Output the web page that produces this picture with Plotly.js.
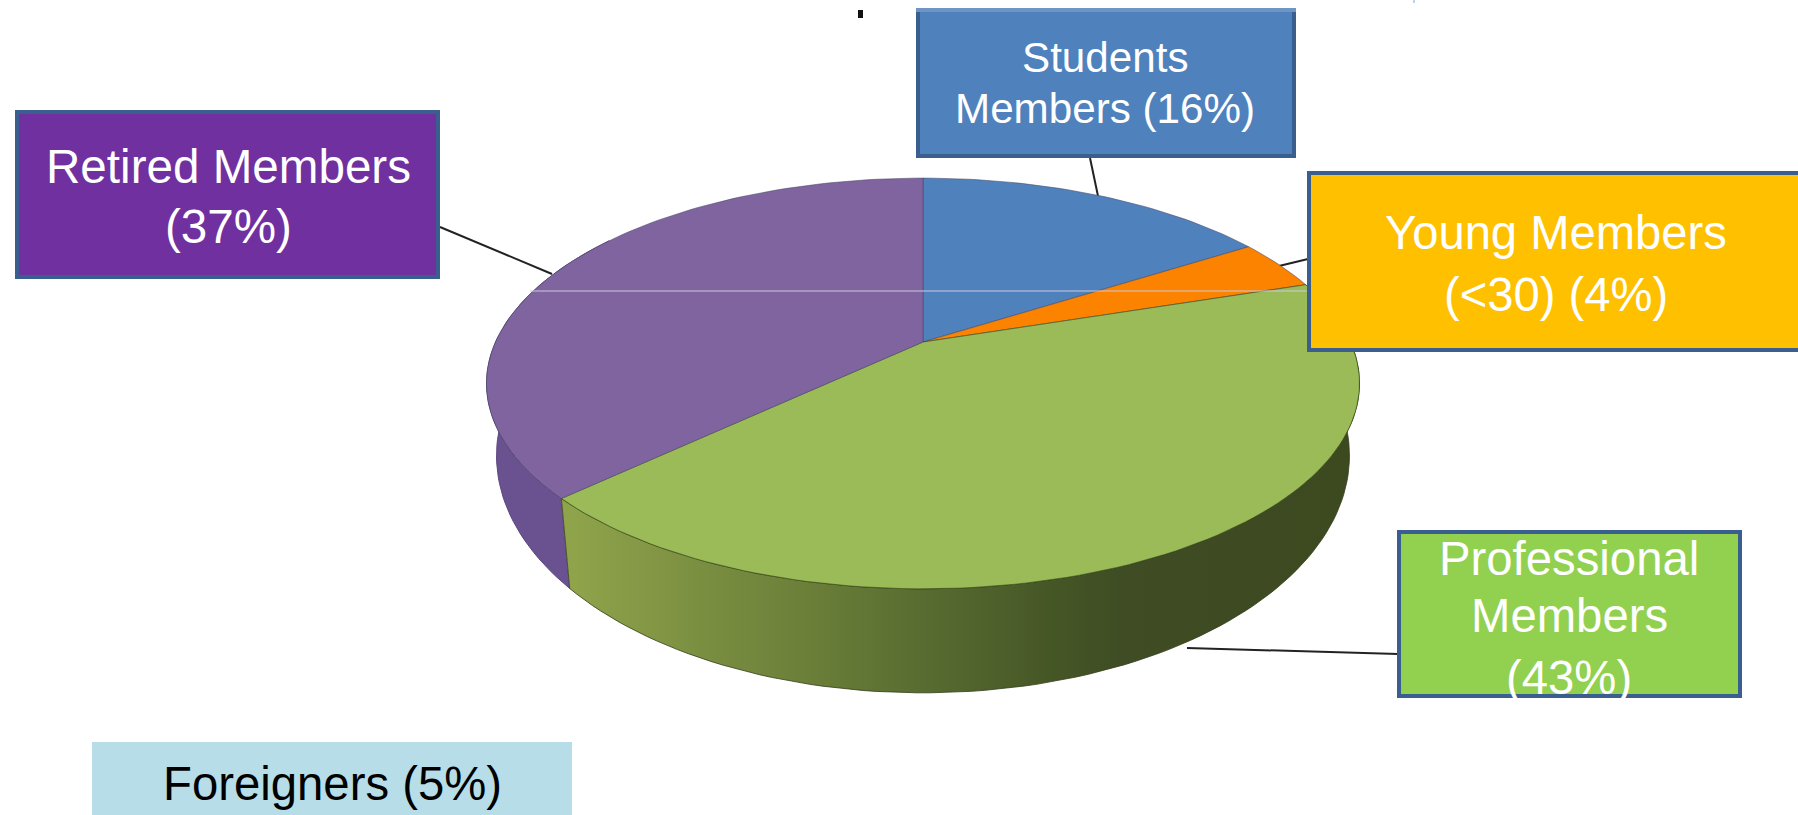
<!DOCTYPE html>
<html>
<head>
<meta charset="utf-8">
<script src="https://cdn.plot.ly/plotly-3.0.1.min.js"></script>
<style>html,body{margin:0;padding:0;background:#fff;overflow:hidden}#chart{width:1798px;height:815px}</style>
</head>
<body>
<div id="chart"></div>
<script>
// ---- data (clockwise from 12 o'clock) ----
const categories = ["Students Members", "Young Members (<30)", "Professional Members", "Retired Members"];
const shares = [16, 4, 43, 37];
const topColors = ["#4f81bd", "#fb8300", "#9bbb59", "#8064a0"];
const foreignerLabel = "Foreigners (5%)";

// ---- projection of the 3D pie ----
const P = {cx: 923, cy: 342, A: 427.5, B: 197, k: 0.202};
function topRim(thetaDeg) {
  const t = thetaDeg * Math.PI / 180, X = Math.sin(t), Y = Math.cos(t), w = 1 + P.k * Y;
  return [P.cx + P.A * X / w, P.cy - P.B * Y / w];
}
function bottomRim(thetaDeg) {
  const p = topRim(thetaDeg);
  return [P.cx + 0.977 * (p[0] - P.cx), 693 + (p[1] - 589) * 1.155];
}
function arc(fn, a, b) {
  const n = Math.max(2, Math.ceil(Math.abs(b - a) / 1.5)), o = [];
  for (let i = 0; i <= n; i++) o.push(fn(a + (b - a) * i / n));
  return o;
}
const total = shares.reduce((s, v) => s + v, 0);
let acc = 0;
const bounds = shares.map(v => { const a = acc; acc += v; return [a / total * 360, acc / total * 360]; });

function poly(pts, opts) {
  return Object.assign({
    x: pts.map(p => p[0]), y: pts.map(p => p[1]),
    mode: "lines", fill: "toself", hoverinfo: "skip", showlegend: false
  }, opts);
}
const traces = [];
// side walls
const gB = bounds[2], rB = bounds[3];
traces.push(poly(arc(topRim, rB[0], 305).concat(arc(bottomRim, 305, rB[0])), {
  fillcolor: "#6a5190", line: {color: "#5b4680", width: 1}
}));
traces.push(poly(arc(topRim, gB[0], gB[1]).concat(arc(bottomRim, gB[1], gB[0])), {
  fillcolor: "#3e4a22",
  fillgradient: {type: "horizontal", start: 575, stop: 1340,
    colorscale: [[0, "#8fa34b"], [0.16, "#7b8f41"], [0.32, "#697d38"], [0.47, "#566a30"], [0.62, "#465726"], [0.72, "#3f4c24"], [1, "#3d4a20"]]},
  line: {color: "rgba(50,60,25,0.8)", width: 1}
}));
// top face
bounds.forEach((b, i) => {
  const pts = [[P.cx, P.cy]].concat(arc(topRim, b[0], b[1]), [[P.cx, P.cy]]);
  traces.push(poly(pts, {
    name: categories[i], fillcolor: topColors[i],
    line: {color: i === 2 ? "rgba(45,65,15,0.6)" : "rgba(70,70,100,0.55)", width: 1}
  }));
});

// ---- callouts ----
const border = "#3a5f8f";
const boxes = [
  {x0: 17, x1: 438, y0: 112, y1: 277, fill: "#7030a0", line: border},
  {x0: 918, x1: 1294, y0: 10, y1: 156, fill: "#4f81bd", line: border},
  {x0: 1309, x1: 1810, y0: 173, y1: 350, fill: "#ffc000", line: border},
  {x0: 1399, x1: 1740, y0: 532, y1: 696, fill: "#92d050", line: border},
  {x0: 92, x1: 572, y0: 742, y1: 815, fill: "#b7dde8", line: null}
];
const leaders = [
  [440, 227, 552, 274], [1090, 158, 1098, 196], [1279, 266, 1308, 259], [1187, 648, 1398, 654]
];
const shapes = [];
leaders.forEach(l => shapes.push({type: "line", layer: "below", x0: l[0], y0: l[1], x1: l[2], y1: l[3], line: {color: "#222", width: 2}}));
shapes.push({type: "line", layer: "above", x0: 530, x1: 1308, y0: 291, y1: 291, line: {color: "#cfc8dc", width: 1}});
boxes.forEach(b => shapes.push({type: "rect", layer: "above", x0: b.x0, x1: b.x1, y0: b.y0, y1: b.y1,
  fillcolor: b.fill, line: b.line ? {color: b.line, width: 4} : {width: 0}}));
// pale top edge of the Students box, stray marks at the top of the page
shapes.push({type: "rect", layer: "above", x0: 916, x1: 1296, y0: 8, y1: 12, fillcolor: "#6f95c4", line: {width: 0}});
shapes.push({type: "rect", layer: "above", x0: 858, x1: 863, y0: 10, y1: 18, fillcolor: "#111", line: {width: 0}});
shapes.push({type: "line", layer: "above", x0: 1414, x1: 1414, y0: 0, y1: 3, line: {color: "#7aa7d8", width: 1}});

const pct = i => "(" + shares[i] + "%)";
const texts = [
  {t: "Students", x: 1105, y: 57, s: 42.2},
  {t: "Members " + pct(0), x: 1105, y: 108, s: 42.2},
  {t: "Young Members", x: 1556, y: 232, s: 47.2},
  {t: "(<30) " + pct(1), x: 1556, y: 294, s: 47.2},
  {t: "Professional", x: 1569, y: 558, s: 47.3},
  {t: "Members", x: 1569, y: 615, s: 47.3},
  {t: pct(2), x: 1569, y: 677, s: 47.3},
  {t: "Retired Members", x: 228, y: 166, s: 47.6},
  {t: pct(3), x: 228, y: 226, s: 47.6},
  {t: foreignerLabel, x: 332, y: 783, s: 47.3, c: "#000"}
];
const annotations = texts.map(a => ({
  text: a.t.replace("<", "&lt;"), x: a.x, y: a.y, xref: "x", yref: "y", showarrow: false,
  xanchor: "center", yanchor: "middle",
  font: {family: "Liberation Sans, Arial, sans-serif", size: a.s, color: a.c || "#fff"}
}));

Plotly.newPlot("chart", traces, {
  width: 1798, height: 815, margin: {l: 0, r: 0, t: 0, b: 0, pad: 0},
  paper_bgcolor: "#fff", plot_bgcolor: "#fff", showlegend: false, hovermode: false,
  xaxis: {range: [0, 1798], visible: false, fixedrange: true},
  yaxis: {range: [815, 0], visible: false, fixedrange: true},
  shapes: shapes, annotations: annotations
}, {displayModeBar: false, staticPlot: true});
</script>
</body>
</html>
